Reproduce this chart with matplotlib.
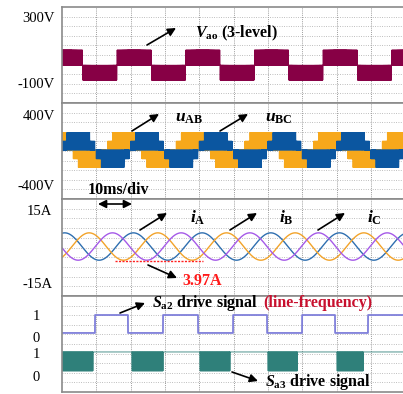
import numpy as np
import matplotlib.pyplot as plt

plt.rcParams['font.family'] = ['Liberation Serif', 'DejaVu Serif']
plt.rcParams['mathtext.fontset'] = 'custom'
plt.rcParams['mathtext.rm'] = 'Liberation Serif:bold'
plt.rcParams['mathtext.it'] = 'Liberation Serif:italic:bold'
plt.rcParams['mathtext.bf'] = 'Liberation Serif:bold'

# ---- values (time in ms, 10 ms/div) ----
t_end = 99.3
period = 20.0            # 50 Hz fundamental

# Vao, 3-level phase voltage (high, middle, low trace levels)
vao_levels = [100, 8, -82]
vao_peak_time = 21.0
vao_mod = 0.85

# line voltages u_AB, u_BC built from three 3-level legs
leg_levels = [100, 0, -100]
leg_peak_times = [19.7, 26.4, 33.1]   # legs A, B, C
leg_mod = 0.9

# phase currents
i_rms = 3.97
i_peak_times = [0.8, 7.9, 14.7]
i_min_marker = -5.9
i_marker_span = (15.4, 41.1)

# drive signals
sa2_rise = [9.6, 29.4, 49.8, 69.9, 89.1]
sa2_fall = [19.2, 39.6, 59.7, 79.5]
sa3_pwm = [(0.0, 9.0), (20.4, 29.4), (40.2, 48.9), (60.0, 68.5), (80.1, 87.7)]

# ---- waveforms ----
t = np.arange(0, t_end, 0.005)
fc = 10.0  # carrier, kHz
carrier = np.abs(((t * fc) % 1.0) * 2 - 1)


def sine(peak_time):
    return np.cos(2 * np.pi * (t - peak_time) / period)


def three_level(ref, levels):
    hi, mid, lo = levels
    return np.where(ref > carrier, hi, np.where(ref < -carrier, lo, mid))


vao = three_level(vao_mod * sine(vao_peak_time), vao_levels)

va, vb, vc = [three_level(leg_mod * sine(tp), leg_levels) for tp in leg_peak_times]
uab = va - vb
ubc = vb - vc

i_pk = i_rms * np.sqrt(2)
currents = [i_pk * sine(tp) for tp in i_peak_times]

sa2 = np.zeros_like(t)
for k, r in enumerate(sa2_rise):
    f = sa2_fall[k] if k < len(sa2_fall) else t_end
    sa2[(t >= r) & (t < f)] = 1
sa3 = np.ones_like(t)
for a, b in sa3_pwm:
    m = (t >= a) & (t < b)
    sa3[m] = (0.5 > carrier[m]).astype(float)

# ---- figure ----
W, H = 403, 394
fig = plt.figure(figsize=(W / 100, H / 100), dpi=100)
frame = '#8a8a8a'


def panel(top, bottom, ylim):
    ax = fig.add_axes([62 / W, 1 - bottom / H, 1 - 62 / W, (bottom - top) / H])
    ax.set_xlim(0, t_end)
    ax.set_ylim(*ylim)
    for s in ['top', 'bottom', 'left']:
        ax.spines[s].set_color(frame)
        ax.spines[s].set_linewidth(1.2)
    ax.spines['right'].set_visible(False)
    ax.set_xticks([])
    for x in np.arange(10, t_end, 10):
        ax.axvline(x, color='#9a9a9a', lw=0.7, ls=(0, (1, 1.2)), zorder=0)
    lo, hi = ylim
    for f in np.arange(0.1, 0.95, 0.1):
        ax.axhline(lo + f * (hi - lo), color='#a8a8a8', lw=0.6, ls=(0, (1, 1.8)), zorder=0)
    ax.tick_params(axis='y', length=0, labelsize=10.5)
    return ax


ax1 = panel(7, 103, (-220.7, 360.5))
ax1.plot(t, vao, color='#870045', lw=0.6)
ax1.set_yticks([300, -100], ['300V', '-100V'])
ax1.tick_params(axis='y', pad=5)

ax2 = panel(103, 199, (-560, 537))
ax2.plot(t, uab, color='#f7a81b', lw=0.6)
ax2.plot(t, ubc, color='#0b56a0', lw=0.6)
ax2.set_yticks([400, -400], ['400V', '-400V'])
ax2.tick_params(axis='y', pad=5)

ax3 = panel(199, 296, (-20.3, 19.5))
for y, c in zip(currents, ['#2f6fb0', '#f2a32a', '#a55ae8']):
    ax3.plot(t, y, color=c, lw=1.0)
ax3.hlines(i_min_marker, *i_marker_span, color='#ff2020', lw=1.0, ls=(0, (1.5, 1)))
ax3.set_yticks([15, -15], ['15A', '-15A'])
ax3.tick_params(axis='y', pad=7)

ax4 = panel(296, 392, (0, 10))
ax4.plot(t, 6.15 + 1.87 * sa2, color='#7f7fda', lw=1.3)
ax4.plot(t, 2.2 + 1.97 * sa3, color='#2f807a', lw=0.6)
ax4.set_yticks([8.0, 5.73, 4.06, 1.67], ['1', '0', '1', '0'])
ax4.tick_params(axis='y', pad=16)


def fp(x, y):
    return (x, H - y)


def arrow(x0, y0, x1, y1, style='-|>'):
    fig.add_artist(plt.matplotlib.patches.FancyArrowPatch(
        fp(x0, y0), fp(x1, y1), transform=None, arrowstyle=style,
        mutation_scale=12, lw=1.2, color='black', shrinkA=0, shrinkB=0))


def label(x, y, s, color='black', size=11.5):
    fig.text(x / W, 1 - y / H, s, ha='left', va='center', fontsize=size,
             fontweight='bold', color=color)


arrow(147, 45, 176, 28)
label(195, 33, r'$V_{\rm ao}$ (3-level)')

arrow(132, 131, 159, 114)
label(175, 118, r'$u_{\rm AB}$', size=12.5)
arrow(220, 131, 248, 114)
label(265, 118, r'$u_{\rm BC}$', size=12.5)

label(88, 190, '10ms/div')
arrow(98, 204, 132, 204, style='<|-|>')

arrow(140, 230, 167, 213)
label(190, 218, r'$i_{\rm A}$', size=12.5)
arrow(230, 230, 257, 213)
label(279, 218, r'$i_{\rm B}$', size=12.5)
arrow(318, 230, 345, 213)
label(367, 218, r'$i_{\rm C}$', size=12.5)

arrow(148, 265, 177, 278)
label(182, 281, '3.97A', color='#ff1a1a')

arrow(120, 313, 145, 303)
label(152, 303, r'$S_{\rm a2}$ drive signal')
label(263, 303, '(line-frequency)', color='#c8102e')

arrow(232, 372, 258, 381)
label(265, 382, r'$S_{\rm a3}$ drive signal')

plt.savefig('out.png', dpi=100)
